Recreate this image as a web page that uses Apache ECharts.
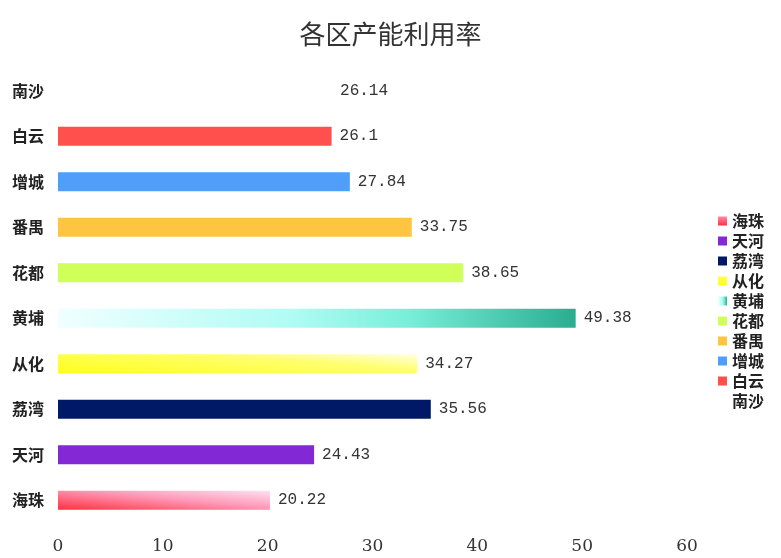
<!DOCTYPE html>
<html>
<head>
<meta charset="utf-8">
<script src="https://cdn.jsdelivr.net/npm/echarts@6/dist/echarts.min.js"></script>
<style>html,body{margin:0;padding:0;background:#fff;}#c{width:781px;height:558px;}</style>
</head>
<body>
<div id="c"></div>
<script>
var categories = ['海珠', '天河', '荔湾', '从化', '黄埔', '花都', '番禺', '增城', '白云', '南沙'];
var values = [20.22, 24.43, 35.56, 34.27, 49.38, 38.65, 33.75, 27.84, 26.1, 26.14];
var xTicks = [0, 10, 20, 30, 40, 50, 60];

var colors = [
  { type: 'linear', x: 0, y: 1, x2: 0.02, y2: -1.3, colorStops: [
      { offset: 0, color: '#ff2f40' }, { offset: 0.5, color: '#ff9ab9' }, { offset: 1, color: '#fff4ff' }] },
  '#8228d4',
  '#001966',
  { type: 'linear', x: 0, y: 1, x2: 0.014, y2: -2.3, colorStops: [
      { offset: 0, color: '#ffff1a' }, { offset: 0.5, color: '#ffff70' }, { offset: 0.82, color: '#ffffff' }, { offset: 1, color: '#ffffff' }] },
  { type: 'linear', x: 0, y: 0, x2: 1, y2: 0, colorStops: [
      { offset: 0, color: '#f0ffff' }, { offset: 0.45, color: '#b0fcf4' }, { offset: 0.68, color: '#78eed8' }, { offset: 1, color: '#29ad8f' }] },
  '#d1ff5a',
  '#ffc542',
  '#4f9ffa',
  '#ff504e',
  'rgba(255,255,255,0)'
];

var series = categories.map(function (name, i) {
  return {
    name: name,
    type: 'bar',
    stack: 'total',
    barWidth: '42%',
    itemStyle: { color: colors[i] },
    label: {
      show: true,
      position: 'right',
      distance: 8,
      color: '#333',
      fontFamily: 'Liberation Mono',
      fontSize: 16
    },
    data: categories.map(function (c, j) { return j === i ? values[i] : '-'; })
  };
});

var chart = echarts.init(document.getElementById('c'));
chart.setOption({
  backgroundColor: '#fff',
  animation: false,
  title: {
    text: '各区产能利用率',
    left: 'center',
    top: 16,
    textStyle: { fontSize: 26, fontWeight: 'normal', color: '#333', fontFamily: 'Noto Sans CJK SC' }
  },
  legend: {
    orient: 'vertical',
    right: 12,
    top: 208,
    itemWidth: 9,
    itemHeight: 9,
    itemGap: 4,
    icon: 'rect',
    data: categories.slice(),
    textStyle: { fontSize: 16, fontWeight: 'bold', color: '#222', fontFamily: 'Noto Sans CJK SC' }
  },
  grid: { left: 58, right: 94, top: 68, bottom: 35, containLabel: false },
  xAxis: {
    type: 'value',
    min: xTicks[0],
    max: xTicks[xTicks.length - 1],
    interval: 10,
    axisLine: { show: false },
    axisTick: { show: false },
    splitLine: { show: false },
    axisLabel: { color: '#333', fontFamily: 'DejaVu Serif', fontSize: 17, margin: 15 }
  },
  yAxis: {
    type: 'category',
    data: categories,
    axisLine: { show: false },
    axisTick: { show: false },
    axisLabel: { color: '#222', fontWeight: 'bold', fontSize: 16, fontFamily: 'Noto Sans CJK SC', margin: 14 }
  },
  series: series
});
</script>
</body>
</html>
